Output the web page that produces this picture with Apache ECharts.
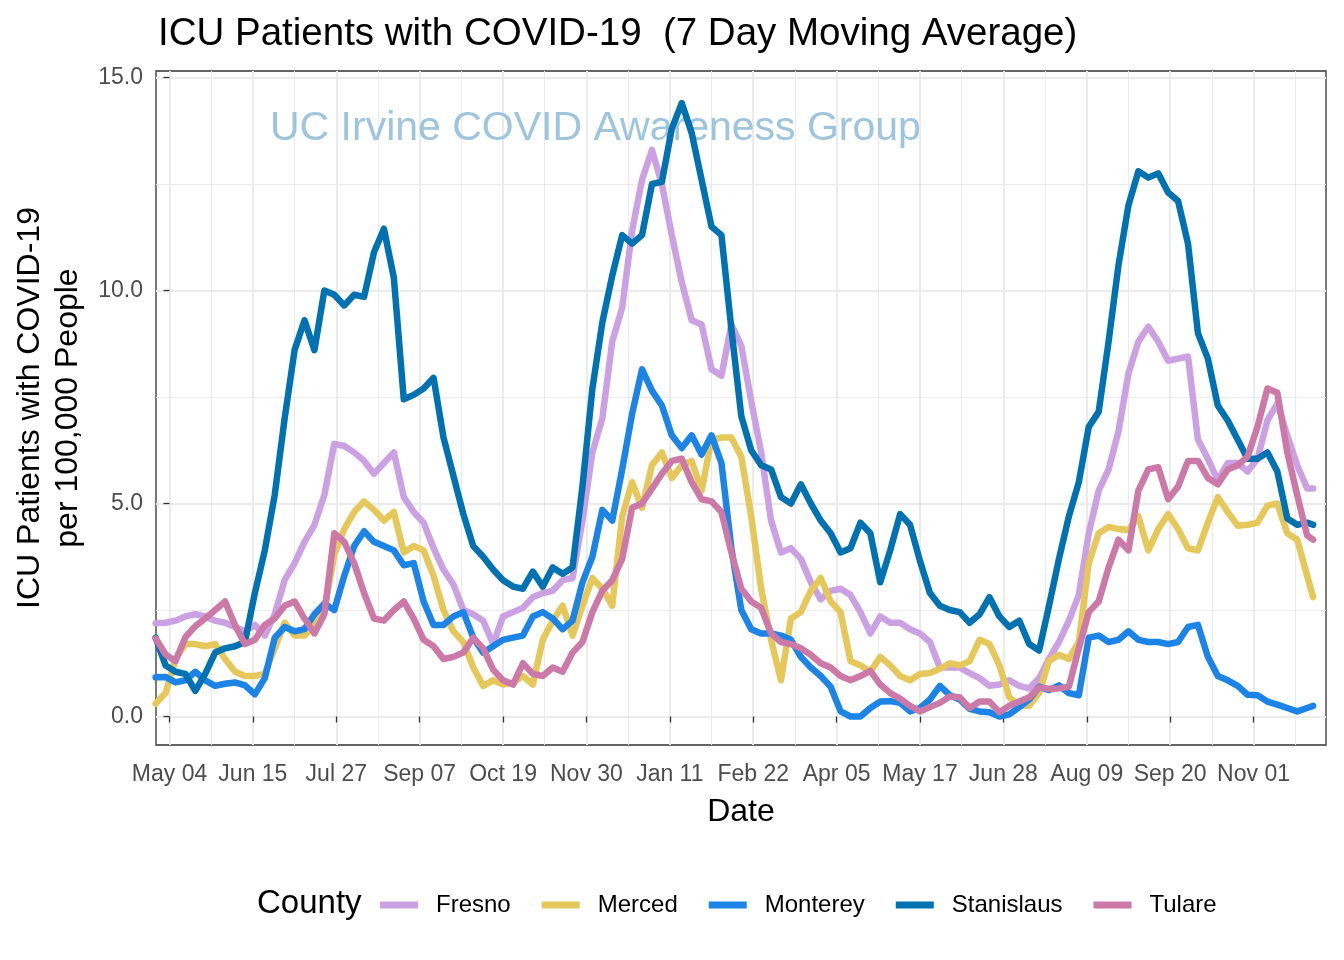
<!DOCTYPE html>
<html><head><meta charset="utf-8">
<script src="https://cdn.jsdelivr.net/npm/echarts@6/dist/echarts.min.js"></script>
<style>html,body{margin:0;padding:0;background:#fff}#c{width:1344px;height:960px}</style>
</head><body><div id="c"></div><script>
// x = days since 2020-05-04
const days = [-7,-2,3,8,13,18,23,28,33,38,43,48,53,58,63,68,73,78,83,88,93,98,103,108,113,118,123,128,133,138,143,148,153,158,163,168,173,178,183,188,193,198,203,208,213,218,223,228,233,238,243,248,253,258,263,268,273,278,283,288,293,298,303,308,313,318,323,328,333,338,343,348,353,358,363,368,373,378,383,388,393,398,403,408,413,418,423,428,433,438,443,448,453,458,463,468,473,478,483,488,493,498,503,508,513,518,523,528,533,538,543,548,553,558,563,568,573,576];
const fresno = [2.19,2.2,2.25,2.35,2.4,2.35,2.25,2.2,2.1,2.0,
 2.15,1.9,2.4,3.2,3.6,4.1,4.5,5.2,6.4,6.35,
 6.2,6.0,5.7,5.95,6.2,5.15,4.8,4.55,3.95,3.45,
 3.1,2.5,2.4,2.25,1.7,2.35,2.45,2.55,2.8,2.9,
 2.95,3.2,3.25,4.6,6.2,7.0,8.8,9.6,11.4,12.6,
 13.3,12.5,11.3,10.2,9.3,9.2,8.15,8.0,9.2,8.7,
 7.4,6.2,4.6,3.85,3.95,3.7,3.15,2.75,2.95,3.0,
 2.85,2.45,1.95,2.35,2.2,2.2,2.05,1.95,1.75,1.15,
 1.15,1.15,1.02,0.9,0.72,0.75,0.85,0.72,0.66,0.9,
 1.35,1.75,2.25,2.85,4.3,5.3,5.8,6.7,8.05,8.8,
 9.15,8.8,8.35,8.4,8.45,6.5,6.05,5.55,5.95,5.95,
 5.75,6.05,6.95,7.35,6.6,5.9,5.35,5.35];
const merced = [0.3,0.55,1.35,1.7,1.7,1.65,1.7,1.35,1.05,0.95,
 0.95,1.0,1.6,2.2,1.9,1.9,2.15,2.5,3.8,4.4,
 4.8,5.05,4.85,4.6,4.8,3.85,4.0,3.9,3.3,2.5,
 2.0,1.75,1.15,0.72,0.85,0.75,0.8,0.95,0.75,1.8,
 2.25,2.6,1.9,2.6,3.25,3.0,2.6,4.7,5.5,4.9,
 5.9,6.2,5.6,5.9,6.0,5.3,6.5,6.55,6.55,6.1,
 4.7,3.0,1.8,0.85,2.3,2.45,2.95,3.25,2.7,2.45,
 1.3,1.2,1.05,1.4,1.2,0.95,0.85,1.0,1.02,1.12,
 1.25,1.2,1.3,1.8,1.7,1.2,0.45,0.25,0.25,0.55,
 1.3,1.45,1.35,1.75,3.6,4.3,4.45,4.4,4.38,4.7,
 3.9,4.4,4.75,4.4,3.95,3.9,4.55,5.15,4.8,4.48,
 4.5,4.55,4.95,5.0,4.3,4.15,3.3,2.8];
const monterey = [0.92,0.93,0.8,0.85,1.05,0.85,0.72,0.77,0.8,0.73,
 0.52,0.9,1.85,2.1,2.0,2.05,2.4,2.65,2.5,3.3,
 4.0,4.35,4.1,4.0,3.9,3.55,3.6,2.7,2.15,2.15,
 2.35,2.45,1.85,1.5,1.65,1.8,1.85,1.9,2.35,2.45,
 2.3,2.05,2.25,3.15,3.75,4.85,4.6,5.8,7.1,8.15,
 7.65,7.3,6.6,6.3,6.6,6.15,6.6,5.95,3.95,2.5,
 2.05,1.95,1.95,1.9,1.8,1.4,1.15,0.95,0.7,0.12,
 0.0,0.0,0.2,0.35,0.36,0.32,0.12,0.2,0.4,0.72,
 0.5,0.4,0.18,0.12,0.1,0.0,0.05,0.22,0.4,0.7,
 0.62,0.73,0.55,0.5,1.85,1.9,1.75,1.8,2.0,1.8,
 1.75,1.75,1.7,1.75,2.1,2.15,1.4,0.95,0.85,0.72,
 0.51,0.5,0.35,0.28,0.2,0.12,0.2,0.25];
const stanislaus = [1.85,1.2,1.05,1.0,0.6,1.0,1.5,1.6,1.65,1.75,
 2.9,3.9,5.2,7.0,8.6,9.3,8.6,10.0,9.9,9.65,
 9.9,9.85,10.9,11.45,10.3,7.45,7.55,7.7,7.95,6.55,
 5.65,4.75,4.0,3.75,3.45,3.2,3.05,3.0,3.4,3.05,
 3.5,3.35,3.5,5.4,7.7,9.25,10.35,11.3,11.1,11.3,
 12.5,12.55,13.8,14.4,13.7,12.6,11.5,11.3,9.1,7.05,
 6.25,5.9,5.8,5.15,5.0,5.45,5.0,4.6,4.3,3.85,
 3.95,4.55,4.3,3.15,3.9,4.75,4.5,3.65,2.9,2.6,
 2.5,2.45,2.2,2.4,2.8,2.35,2.1,2.25,1.7,1.55,
 2.6,3.7,4.7,5.5,6.8,7.15,8.8,10.6,12.0,12.8,
 12.65,12.75,12.3,12.1,11.1,9.0,8.4,7.3,6.95,6.5,
 6.05,6.05,6.2,5.75,4.65,4.5,4.55,4.5];
const tulare = [1.83,1.46,1.3,1.86,2.12,2.3,2.5,2.7,2.14,1.7,
 1.8,2.15,2.3,2.6,2.7,2.3,1.95,2.4,4.3,4.1,
 3.6,2.9,2.3,2.25,2.5,2.7,2.3,1.8,1.65,1.35,
 1.4,1.5,1.85,1.6,1.1,0.85,0.75,1.25,1.0,0.95,
 1.15,1.05,1.5,1.75,2.45,2.95,3.2,3.7,4.9,5.0,
 5.35,5.7,6.0,6.05,5.5,5.1,5.05,4.8,3.85,3.0,
 2.7,2.55,1.95,1.75,1.7,1.6,1.45,1.25,1.15,0.95,
 0.85,0.95,1.07,0.75,0.55,0.42,0.25,0.12,0.22,0.32,
 0.47,0.45,0.2,0.35,0.35,0.1,0.25,0.35,0.45,0.68,
 0.65,0.66,0.7,1.6,2.45,2.7,3.5,4.15,3.9,5.3,
 5.8,5.85,5.1,5.4,6.0,6.0,5.6,5.45,5.8,5.9,
 6.1,6.8,7.7,7.6,6.2,5.2,4.25,4.15];

const countyNames = ['Fresno','Merced','Monterey','Stanislaus','Tulare'];
const countyColors = ['#CBA1E4','#E6C75A','#1B84E6','#0072B2','#CC79A7'];
const countyValues = [fresno, merced, monterey, stanislaus, tulare];

const tickDays = [0,42,84,126,168,210,252,294,336,378,420,462,504,546];
const tickLabels = ['May 04','Jun 15','Jul 27','Sep 07','Oct 19','Nov 30','Jan 11','Feb 22','Apr 05','May 17','Jun 28','Aug 09','Sep 20','Nov 01'];
const minorDays = [21,63,105,147,189,231,273,315,357,399,441,483,525,567];
const yTicks = [0,5,10,15];
const yMinor = [2.5,7.5,12.5];

const FONT = "'Liberation Sans', Arial, Helvetica, sans-serif";
const chart = echarts.init(document.getElementById('c'), null, {renderer:'canvas'});

const gridLines = []
  .concat(tickDays.map(d => ({xAxis: d, lineStyle: {width: 2}})))
  .concat(minorDays.map(d => ({xAxis: d, lineStyle: {width: 1}})))
  .concat(yTicks.map(v => ({yAxis: v, lineStyle: {width: 2}})))
  .concat(yMinor.map(v => ({yAxis: v, lineStyle: {width: 1}})));

const series = [{
  name: '_grid', type: 'line', data: [[0, 0]], showSymbol: false, silent: true,
  lineStyle: {opacity: 0}, z: 1,
  markLine: {silent: true, symbol: ['none','none'], label: {show: false}, z: 0,
    animation: false, emphasis: {disabled: true},
    lineStyle: {color: '#EBEBEB', type: 'solid'}, data: gridLines}
}];
countyNames.forEach((n, i) => {
  series.push({
    name: n, type: 'line', showSymbol: false, z: 2 + i,
    data: days.map((d, j) => [d, countyValues[i][j]]),
    lineStyle: {width: 6.5, color: countyColors[i], cap: 'round', join: 'round'},
    itemStyle: {color: countyColors[i]},
    emphasis: {disabled: true}
  });
});

chart.setOption({
  animation: false,
  backgroundColor: '#ffffff',
  title: {text: 'ICU Patients with COVID-19  (7 Day Moving Average)', left: 153, top: 10,
    textStyle: {fontFamily: FONT, fontSize: 38.5, fontWeight: 'normal', color: '#000'}},
  grid: {left: 156, right: 18, top: 71, bottom: 215, show: true, borderColor: '#333333', borderWidth: 1.3, backgroundColor: 'transparent'},
  xAxis: {type: 'value', min: -6.8, max: 582.5,
    name: 'Date', nameLocation: 'middle', nameGap: 51,
    nameTextStyle: {fontFamily: FONT, fontSize: 32, color: '#000'},
    axisLine: {show: false},
    axisTick: {show: true, customValues: tickDays, length: 6, lineStyle: {color: '#333333', width: 1.3}},
    axisLabel: {customValues: tickDays, margin: 18, fontFamily: FONT, fontSize: 23, color: '#4D4D4D',
      formatter: v => tickLabels[tickDays.indexOf(Math.round(v))] || ''},
    splitLine: {show: false}, minorSplitLine: {show: false}},
  yAxis: {type: 'value', min: -0.669, max: 15.153,
    name: 'ICU Patients with COVID-19\nper 100,000 People', nameLocation: 'middle', nameGap: 68,
    nameTextStyle: {fontFamily: FONT, fontSize: 32, color: '#000', lineHeight: 38},
    axisLine: {show: false},
    axisTick: {show: true, customValues: yTicks, length: 6, lineStyle: {color: '#333333', width: 1.3}},
    axisLabel: {customValues: yTicks, margin: 13, fontFamily: FONT, fontSize: 23, color: '#4D4D4D',
      formatter: v => Number(v).toFixed(1)},
    splitLine: {show: false}},
  legend: {data: countyNames, left: 380, top: 893, padding: 0, orient: 'horizontal', icon: 'rect',
    itemWidth: 38, itemHeight: 7, itemGap: 31, selectedMode: false,
    textStyle: {fontFamily: FONT, fontSize: 24, color: '#000', padding: [0, 0, 0, 13]}},
  graphic: [
    {type: 'text', x: 270, y: 129, silent: true, z: 1,
      style: {text: 'UC Irvine COVID Awareness Group', fill: '#9EC4DE', font: '41px ' + FONT, verticalAlign: 'middle', textVerticalAlign: 'middle'}},
    {type: 'text', x: 257, y: 904, silent: true,
      style: {text: 'County', fill: '#000', font: '33px ' + FONT, verticalAlign: 'middle', textVerticalAlign: 'middle'}}
  ],
  series: series
});
</script></body></html>
